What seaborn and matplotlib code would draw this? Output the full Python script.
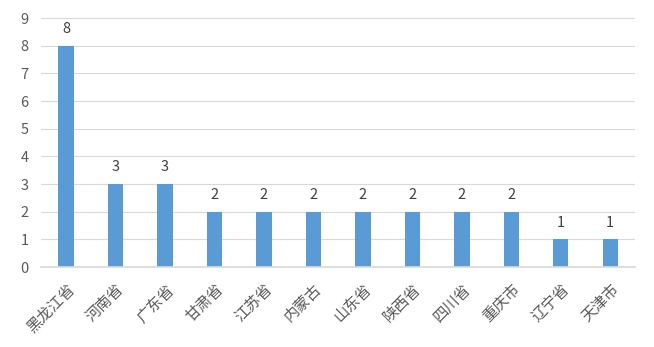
import matplotlib
matplotlib.use("Agg")
import matplotlib.pyplot as plt
import seaborn as sns
import pandas as pd

categories = ["黑龙江省", "河南省", "广东省", "甘肃省", "江苏省", "内蒙古", "山东省", "陕西省", "四川省", "重庆市", "辽宁省", "天津市"]
values = [8, 3, 3, 2, 2, 2, 2, 2, 2, 2, 1, 1]
yticks = list(range(0, 10))

sns.set_theme(style="white")
plt.rcParams['font.family'] = ['Noto Sans CJK SC', 'DejaVu Sans']

df = pd.DataFrame({"cat": categories, "val": values})
fig = plt.figure(figsize=(6.54, 3.47), dpi=100)
ax = fig.add_axes([0.063, 0.2305, 0.908, 0.7175])
sns.barplot(data=df, x="cat", y="val", color="#5B9BD5", width=0.31, saturation=1,
            linewidth=0, edgecolor="none", ax=ax)
ax.set_ylim(0, 9)
ax.set_yticks(yticks)
ax.set_xlim(-0.5, len(categories) - 0.5)
ax.yaxis.grid(True, color="#D9D9D9", linewidth=0.8)
ax.set_axisbelow(True)
for s in ["top", "right", "left"]:
    ax.spines[s].set_visible(False)
ax.spines["bottom"].set_color("#D9D9D9")
ax.set_xlabel("")
ax.set_ylabel("")
ax.tick_params(axis="y", colors="#595959", labelsize=10.5, length=0, pad=9)
ax.tick_params(axis="x", colors="#595959", labelsize=11, length=0, pad=10)
plt.setp(ax.get_xticklabels(), rotation=45, ha="right", rotation_mode="anchor")
for c in ax.containers:
    ax.bar_label(c, padding=7, color="#404040", fontsize=10.5)
fig.savefig("out.png", dpi=100)
